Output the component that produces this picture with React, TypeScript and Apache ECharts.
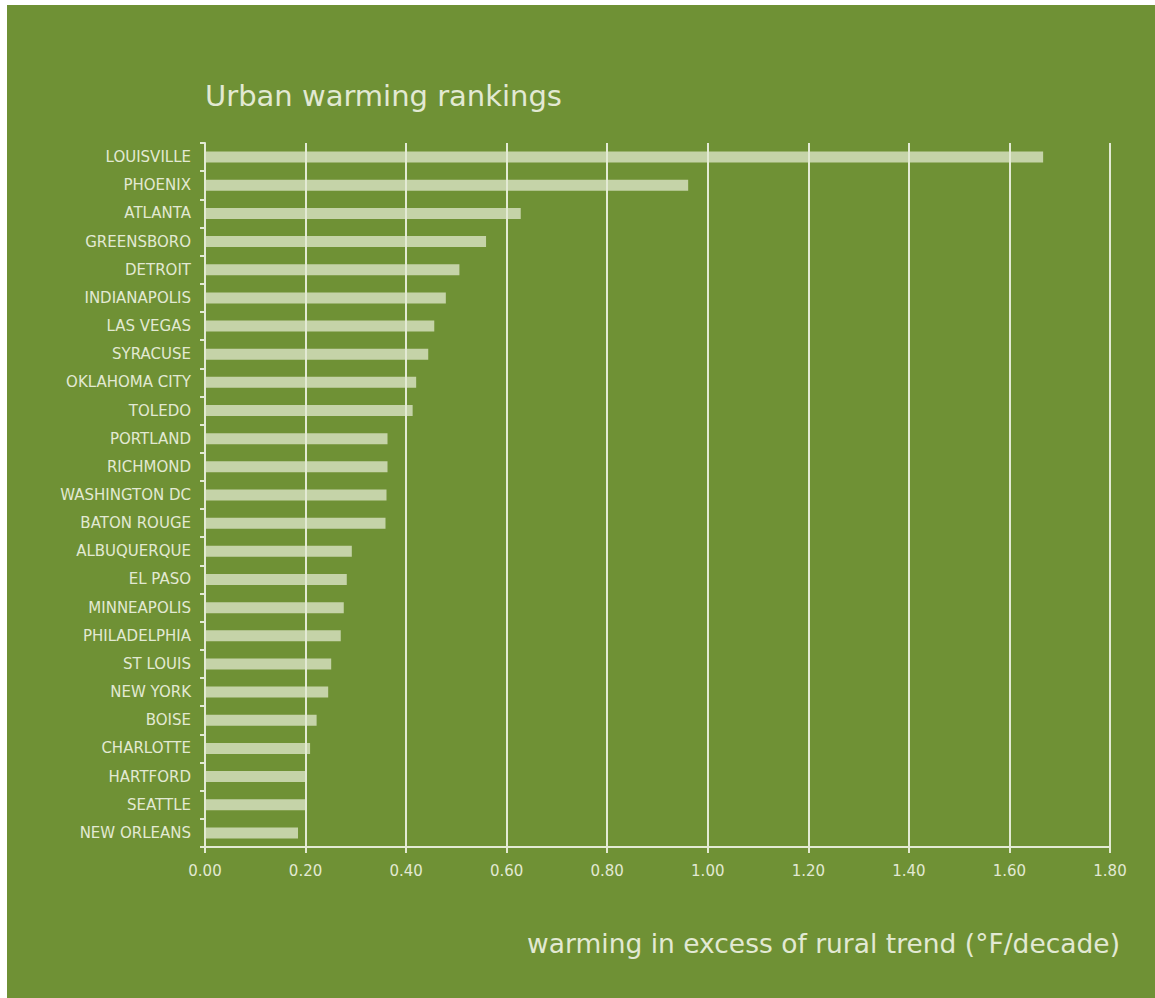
import React, { useEffect, useRef } from "react";
import * as echarts from "echarts";

const cities = [
  "LOUISVILLE", "PHOENIX", "ATLANTA", "GREENSBORO", "DETROIT", "INDIANAPOLIS",
  "LAS VEGAS", "SYRACUSE", "OKLAHOMA CITY", "TOLEDO", "PORTLAND", "RICHMOND",
  "WASHINGTON DC", "BATON ROUGE", "ALBUQUERQUE", "EL PASO", "MINNEAPOLIS",
  "PHILADELPHIA", "ST LOUIS", "NEW YORK", "BOISE", "CHARLOTTE", "HARTFORD",
  "SEATTLE", "NEW ORLEANS",
];

const warming = [
  1.667, 0.961, 0.628, 0.559, 0.506, 0.479, 0.456, 0.444, 0.42, 0.413, 0.363,
  0.363, 0.361, 0.359, 0.292, 0.282, 0.276, 0.27, 0.251, 0.245, 0.222, 0.209,
  0.201, 0.201, 0.185,
];

const titleText = "Urban warming rankings";
const axisTitle = "warming in excess of rural trend (°F/decade)";

const BG = "#6f9135";
const BAR = "#c5d3a8";
const LINE = "#e3ead4";
const TEXT = "#e2e9d3";

export default function App() {
  const ref = useRef<HTMLDivElement>(null);
  useEffect(() => {
    if (!ref.current) return;
    const chart = echarts.init(ref.current, null, { renderer: "svg" });
    chart.setOption({
      animation: false,
      backgroundColor: "#ffffff",
      graphic: [
        {
          type: "rect",
          z: -10,
          silent: true,
          shape: { x: 7, y: 5, width: 1148, height: 993 },
          style: { fill: BG },
        },
        {
          type: "text",
          left: 205,
          top: 81,
          style: {
            text: titleText,
            fill: TEXT,
            font: "29px 'DejaVu Sans'",
          },
        },
        {
          type: "text",
          x: 1120,
          y: 943,
          style: {
            text: axisTitle,
            fill: TEXT,
            font: "26.5px 'DejaVu Sans'",
            textAlign: "right",
            textVerticalAlign: "middle",
          },
        },
      ],
      grid: { left: 205, right: 45, top: 143, bottom: 151, containLabel: false },
      xAxis: {
        type: "value",
        min: 0,
        max: 1.8,
        interval: 0.2,
        z: 3,
        axisLine: { show: true, lineStyle: { color: LINE, width: 2 } },
        axisTick: { show: true, length: 6, lineStyle: { color: LINE, width: 2 } },
        splitLine: { show: true, lineStyle: { color: LINE, width: 2 } },
        axisLabel: {
          color: TEXT,
          fontFamily: "DejaVu Sans",
          fontSize: 15,
          margin: 16,
          formatter: (v: number) => v.toFixed(2),
        },
      },
      yAxis: {
        type: "category",
        data: cities,
        inverse: true,
        z: 3,
        axisLine: { show: true, lineStyle: { color: LINE, width: 2 } },
        axisTick: { show: true, length: 5, lineStyle: { color: LINE, width: 2 } },
        axisLabel: {
          color: TEXT,
          fontFamily: "DejaVu Sans",
          fontSize: 15,
          margin: 14,
        },
      },
      series: [
        {
          type: "bar",
          data: warming,
          barWidth: 11,
          itemStyle: { color: BAR },
        },
      ],
    });
    return () => chart.dispose();
  }, []);
  return (
    <div
      ref={ref}
      style={{ position: "absolute", left: 0, top: 0, width: 1155, height: 998 }}
    />
  );
}
